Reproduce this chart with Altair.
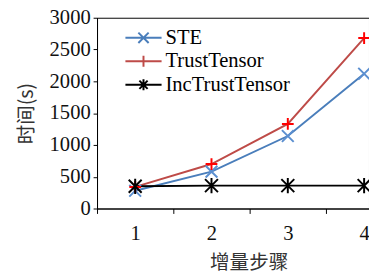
import altair as alt
import pandas as pd

steps = [1, 2, 3, 4]
ste = [280, 580, 1140, 2120]
trust = [340, 700, 1330, 2680]
inc = [350, 360, 360, 360]
series_names = ["STE", "TrustTensor", "IncTrustTensor"]
line_colors = ["#4a7ebb", "#be4b48", "#000000"]
marker_colors = ["#5b8fd0", "#ff0000", "#000000"]
y_ticks = [0, 500, 1000, 1500, 2000, 2500, 3000]
x_ticks = [0.5, 1, 1.5, 2, 2.5, 3, 3.5, 4]

rows = []
for name, vals in zip(series_names, [ste, trust, inc]):
    for s, v in zip(steps, vals):
        rows.append({"step": s, "time": v, "series": name})
df = pd.DataFrame(rows)

marker_paths = [
    "M-1,-1L1,1M-1,1L1,-1",
    "M-1,0L1,0M0,-1L0,1",
    "M-1.1,-1.1L1.1,1.1M-1.1,1.1L1.1,-1.1M0,-1.3L0,1.3",
]
legend_paths = [
    "M-2.64,0L2.64,0M-0.75,-0.75L0.75,0.75M-0.75,0.75L0.75,-0.75",
    "M-2.64,0L2.64,0M0,-0.8L0,0.8",
    "M-2.64,0L2.64,0M-0.6,-0.6L0.6,0.6M-0.6,0.6L0.6,-0.6M0,-0.8L0,0.8",
]

serif = "Liberation Serif"
cjk = "Noto Sans CJK SC"

x_enc = alt.X(
    "step:Q",
    scale=alt.Scale(domain=[0.5, 4.064], nice=False, zero=False),
    axis=alt.Axis(
        values=x_ticks,
        labelExpr="datum.value % 1 === 0 ? format(datum.value, 'd') : ''",
        tickOpacity={"condition": {"test": "datum.value % 1 === 0", "value": 0}, "value": 1},
        tickSize=5,
        labelPadding=10,
        labelFlush=False,
        labelOverlap=False,
        labelBound=False,
        labelFont=serif,
        labelFontSize=21,
        grid=False,
        titleX=155,
        titlePadding=9,
        titleFont=cjk,
    ),
    title="增量步骤",
)
y_enc = alt.Y(
    "time:Q",
    scale=alt.Scale(domain=[0, 3000], nice=False),
    axis=alt.Axis(
        values=y_ticks,
        format="d",
        tickSize=4,
        labelPadding=3,
        labelFont=serif,
        labelFontSize=21,
        grid=False,
        titlePadding=13,
        titleFont=cjk,
    ),
    title="时间(s)",
)

base = alt.Chart(df)

lines = base.mark_line(strokeWidth=2, clip=True).encode(
    x=x_enc,
    y=y_enc,
    color=alt.Color("series:N", scale=alt.Scale(domain=series_names, range=line_colors), legend=None),
)

points = base.mark_point(size=144, strokeWidth=2, opacity=1, filled=False).transform_calculate(
    mk="datum.series"
).encode(
    x=x_enc,
    y=y_enc,
    shape=alt.Shape("mk:N", scale=alt.Scale(domain=series_names, range=marker_paths), legend=None),
    color=alt.Color("mk:N", scale=alt.Scale(domain=series_names, range=marker_colors), legend=None),
)

leg = alt.Legend(
    title=None,
    orient="none",
    legendX=37,
    legendY=10,
    symbolSize=196,
    symbolStrokeWidth=2,
    symbolOpacity=1,
    labelFont=serif,
    labelFontSize=21,
    labelColor="#000000",
    labelOffset=12,
    rowPadding=2,
    padding=0,
)

legend_layer = base.mark_point(size=196, strokeWidth=2, opacity=0, filled=False).transform_calculate(
    lg="datum.series"
).encode(
    x=x_enc,
    y=y_enc,
    shape=alt.Shape("lg:N", scale=alt.Scale(domain=series_names, range=legend_paths), legend=leg),
    color=alt.Color("lg:N", scale=alt.Scale(domain=series_names, range=line_colors), legend=leg),
)

chart = (
    alt.layer(lines, points, legend_layer)
    .resolve_scale(color="independent", shape="independent")
    .properties(
        width=278,
        height=195,
        autosize=alt.AutoSizeParams(type="none"),
        padding={"left": 91, "top": 7, "right": 0, "bottom": 66},
    )
    .configure(font=serif)
    .configure_view(stroke="#000000", strokeWidth=1)
    .configure_legend(labelFont=serif, labelFontSize=21)
    .configure_axis(
        labelFont=serif,
        labelFontSize=21,
        labelColor="#111111",
        domainColor="#000000",
        tickColor="#000000",
        titleFont=cjk,
        titleFontSize=20,
        titleFontWeight="normal",
        titleColor="#333333",
    )
)

chart.save("out.html", embed_options={"renderer": "svg", "actions": False})
